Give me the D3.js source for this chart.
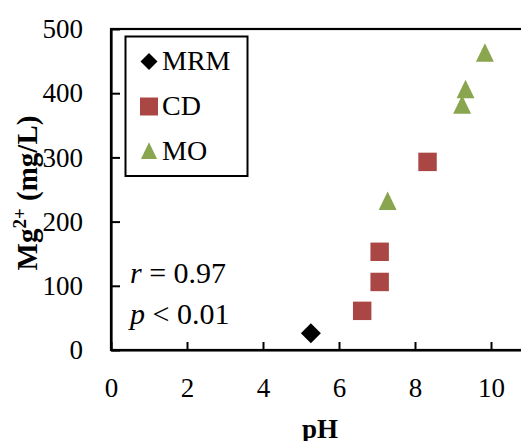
<!DOCTYPE html>
<html><head><meta charset="utf-8">
<script src="https://cdn.jsdelivr.net/npm/d3@7/dist/d3.min.js"></script>
<style>
html,body{margin:0;padding:0;background:#fff;}
svg{display:block;}
</style></head>
<body>
<svg id="chart" width="521" height="441" font-family="Liberation Serif"></svg>
<script>
// Data (pH, Mg2+ mg/L)
const seriesNames = ["MRM", "CD", "MO"];
const mrmPH = [5.26];
const mrmMg = [26];
const cdPH = [6.61, 7.07, 7.07, 8.33];
const cdMg = [61, 106, 153, 293];
const moPH = [7.28, 9.24, 9.33, 9.84];
const moMg = [231, 381, 405, 462];
const xTicks = [0, 2, 4, 6, 8, 10];
const yTicks = [0, 100, 200, 300, 400, 500];
const statLines = [["r", " = 0.97"], ["p", " < 0.01"]];

const colors = {MRM: "#000000", CD: "#AA4643", MO: "#89A54E"};
const FONT = "Liberation Serif";

const svg = d3.select("#chart");
const mLeft = 111, mTop = 29, mBottom = 350, mRight = 529;
const x = d3.scaleLinear().domain([0, 11]).range([mLeft, mRight]);
const y = d3.scaleLinear().domain([0, 500]).range([mBottom, mTop]);

// custom symbols
const diamond = {draw(ctx, size){ const r = Math.sqrt(size)/2; ctx.moveTo(0,-r); ctx.lineTo(r,0); ctx.lineTo(0,r); ctx.lineTo(-r,0); ctx.closePath(); }};
const tri = {draw(ctx, size){ const s = Math.sqrt(size); const h = s*1.03; ctx.moveTo(0,-h*0.55); ctx.lineTo(s/2,h*0.45); ctx.lineTo(-s/2,h*0.45); ctx.closePath(); }};
const square = {draw(ctx, size){ const s = Math.sqrt(size)/2; ctx.rect(-s,-s,2*s,2*s); }};

// frame
svg.append("rect").attr("x", mLeft).attr("y", mTop).attr("width", mRight-mLeft).attr("height", mBottom-mTop)
  .attr("fill","none").attr("stroke","#000").attr("stroke-width",2.2);

// y axis
const yAxis = svg.append("g").attr("transform", `translate(${mLeft},0)`)
  .call(d3.axisLeft(y).tickValues(yTicks).tickSizeInner(-9).tickSizeOuter(0).tickPadding(28))
  .attr("font-family", FONT).attr("font-size", 27);
yAxis.select(".domain").attr("stroke","#000").attr("stroke-width",2.2);
yAxis.selectAll(".tick line").attr("stroke","#000").attr("stroke-width",2);
yAxis.selectAll(".tick text").attr("font-size",27).attr("fill","#000").attr("font-family",FONT);

// x axis
const xAxis = svg.append("g").attr("transform", `translate(0,${mBottom})`)
  .call(d3.axisBottom(x).tickValues(xTicks).tickSizeInner(-8).tickSizeOuter(0))
  .attr("font-family", FONT).attr("font-size", 27);
xAxis.select(".domain").attr("stroke","#000").attr("stroke-width",2.2);
xAxis.selectAll(".tick line").attr("stroke","#000").attr("stroke-width",2);
xAxis.selectAll(".tick text").attr("font-size",27).attr("fill","#000").attr("font-family",FONT)
  .attr("y", 47).attr("dy", 0);

// axis labels
svg.append("text").attr("x", 320).attr("y", 438).attr("text-anchor","middle").attr("font-family",FONT)
  .attr("font-size",27).attr("font-weight","bold").text("pH");
const yl = svg.append("text").attr("transform","translate(37,193) rotate(-90)").attr("font-family",FONT)
  .attr("text-anchor","middle").attr("font-size",29).attr("font-weight","bold");
yl.append("tspan").text("Mg");
yl.append("tspan").attr("font-size",19).attr("dy",-11).text("2+");
yl.append("tspan").attr("dy",11).text(" (mg/L)");

// points
const sets = [
  {name:"MRM", xs: mrmPH, ys: mrmMg, type: diamond, size: 400},
  {name:"CD", xs: cdPH, ys: cdMg, type: square, size: 340},
  {name:"MO", xs: moPH, ys: moMg, type: tri, size: 320}
];
sets.forEach(s => {
  svg.append("g").selectAll("path").data(s.xs.map((v,i)=>[v, s.ys[i]])).join("path")
    .attr("transform", d => `translate(${x(d[0])},${y(d[1])})`)
    .attr("d", d3.symbol().type(s.type).size(s.size))
    .attr("fill", colors[s.name]);
});

// legend
const lg = svg.append("g");
lg.append("rect").attr("x",125.5).attr("y",36.5).attr("width",122).attr("height",139.5)
  .attr("fill","#fff").attr("stroke","#000").attr("stroke-width",2);
const legSizes = {MRM: 290, CD: 324, MO: 260};
sets.forEach((s,i) => {
  const cy = 61.5 + i*45;
  lg.append("path").attr("transform", `translate(149,${cy})`)
    .attr("d", d3.symbol().type(s.type).size(legSizes[s.name])).attr("fill", colors[s.name]);
  lg.append("text").attr("x",162).attr("y",cy+8.5).attr("font-family",FONT).attr("font-size",28).attr("fill","#000").text(s.name);
});

// stats annotation
statLines.forEach((l,i) => {
  const t = svg.append("text").attr("x",130).attr("y",283 + i*41).attr("font-family",FONT).attr("font-size",30).attr("fill","#000");
  t.append("tspan").attr("font-style","italic").text(l[0]);
  t.append("tspan").text(l[1]);
});
</script>
</body></html>
